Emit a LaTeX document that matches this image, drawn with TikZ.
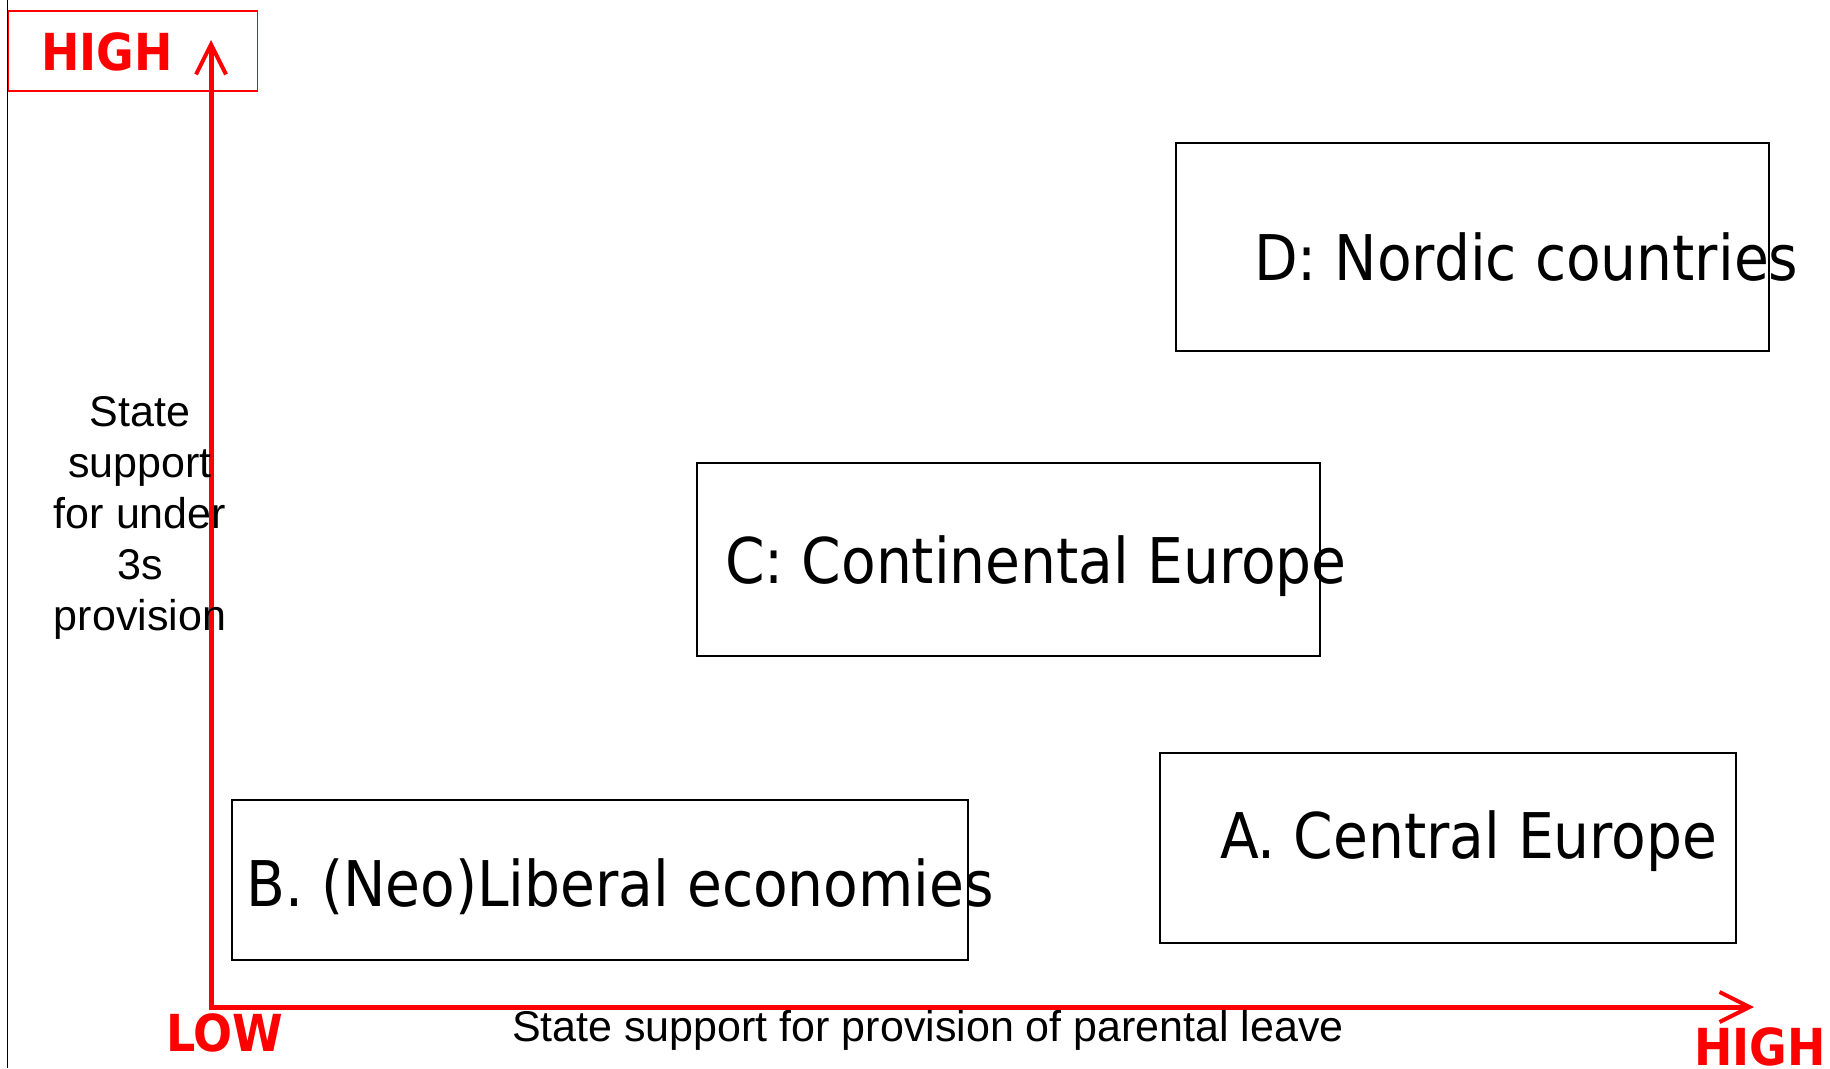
\documentclass[tikz,border=0pt]{standalone}
\usepackage{fontspec}
\setmainfont{Liberation Sans}
\newfontfamily\boxfont{DejaVu Sans Condensed}
\newfontfamily\axfont{DejaVu Sans Condensed}[BoldFont={DejaVu Sans Condensed Bold}]
\usetikzlibrary{arrows.meta}
\begin{document}
\begin{tikzpicture}[x=1pt,y=-1pt,
  region/.style={draw=black,line width=1.5pt,inner sep=0pt},
  regtext/.style={anchor=base west,inner sep=0pt,font=\boxfont\fontsize{63}{63}\selectfont},
  axlabel/.style={anchor=base west,inner sep=0pt,text=red,font=\axfont\bfseries\fontsize{51}{51}\selectfont},
  axis/.style={draw=red,line width=5pt,miter limit=10,
    {Straight Barb[length=30pt,width=30pt,line width=4pt]}-{Straight Barb[length=30pt,width=30pt,line width=4pt]}},
  plain/.style={inner sep=0pt,font=\fontsize{43}{51}\selectfont}]
\useasboundingbox (0,0) rectangle (1830,1068);
% left border line
\coordinate (lt) at (7.5,0);
\coordinate (lb) at (7.5,1068);
\draw[line width=1.5pt] (lt) -- (lb);
% HIGH box top left
\node[draw=red,line width=1.5pt,minimum width=249pt,minimum height=80pt,inner sep=0pt,anchor=north west] (hbox) at (7.5,10) {};
\node[axlabel] (hightop) at (41,70) {HIGH};
% axes
\coordinate (origin) at (211,1007);
\coordinate (ytip) at (211,40);
\coordinate (xtip) at (1754,1007);
\draw[axis] (ytip) -- (origin) -- (xtip);
\node[axlabel] (low) at (166,1051) {LOW};
\node[axlabel] (highright) at (1694,1065) {HIGH};
% region boxes
\node[region,minimum width=593pt,minimum height=208pt,anchor=north west] (dbox) at (1175,142) {};
\node[regtext] (dtext) at (1254,280) {D: Nordic countries};
\node[region,minimum width=623pt,minimum height=193pt,anchor=north west] (cbox) at (696,462) {};
\node[regtext] (ctext) at (725,583) {C: Continental Europe};
\node[region,minimum width=576pt,minimum height=190pt,anchor=north west] (abox) at (1159,752) {};
\node[regtext] (atext) at (1220,858) {A. Central Europe};
\node[region,minimum width=736pt,minimum height=160pt,anchor=north west] (bbox) at (231,799) {};
\node[regtext] (btext) at (246,906) {B. (Neo)Liberal economies};
% axis titles
\node[plain,align=center,anchor=north] (ylabel) at (140,396) {State\\support\\for under\\3s\\provision};
\node[plain,anchor=base] (xlabel) at (928,1041) {State support for provision of parental leave};
\end{tikzpicture}
\end{document}
